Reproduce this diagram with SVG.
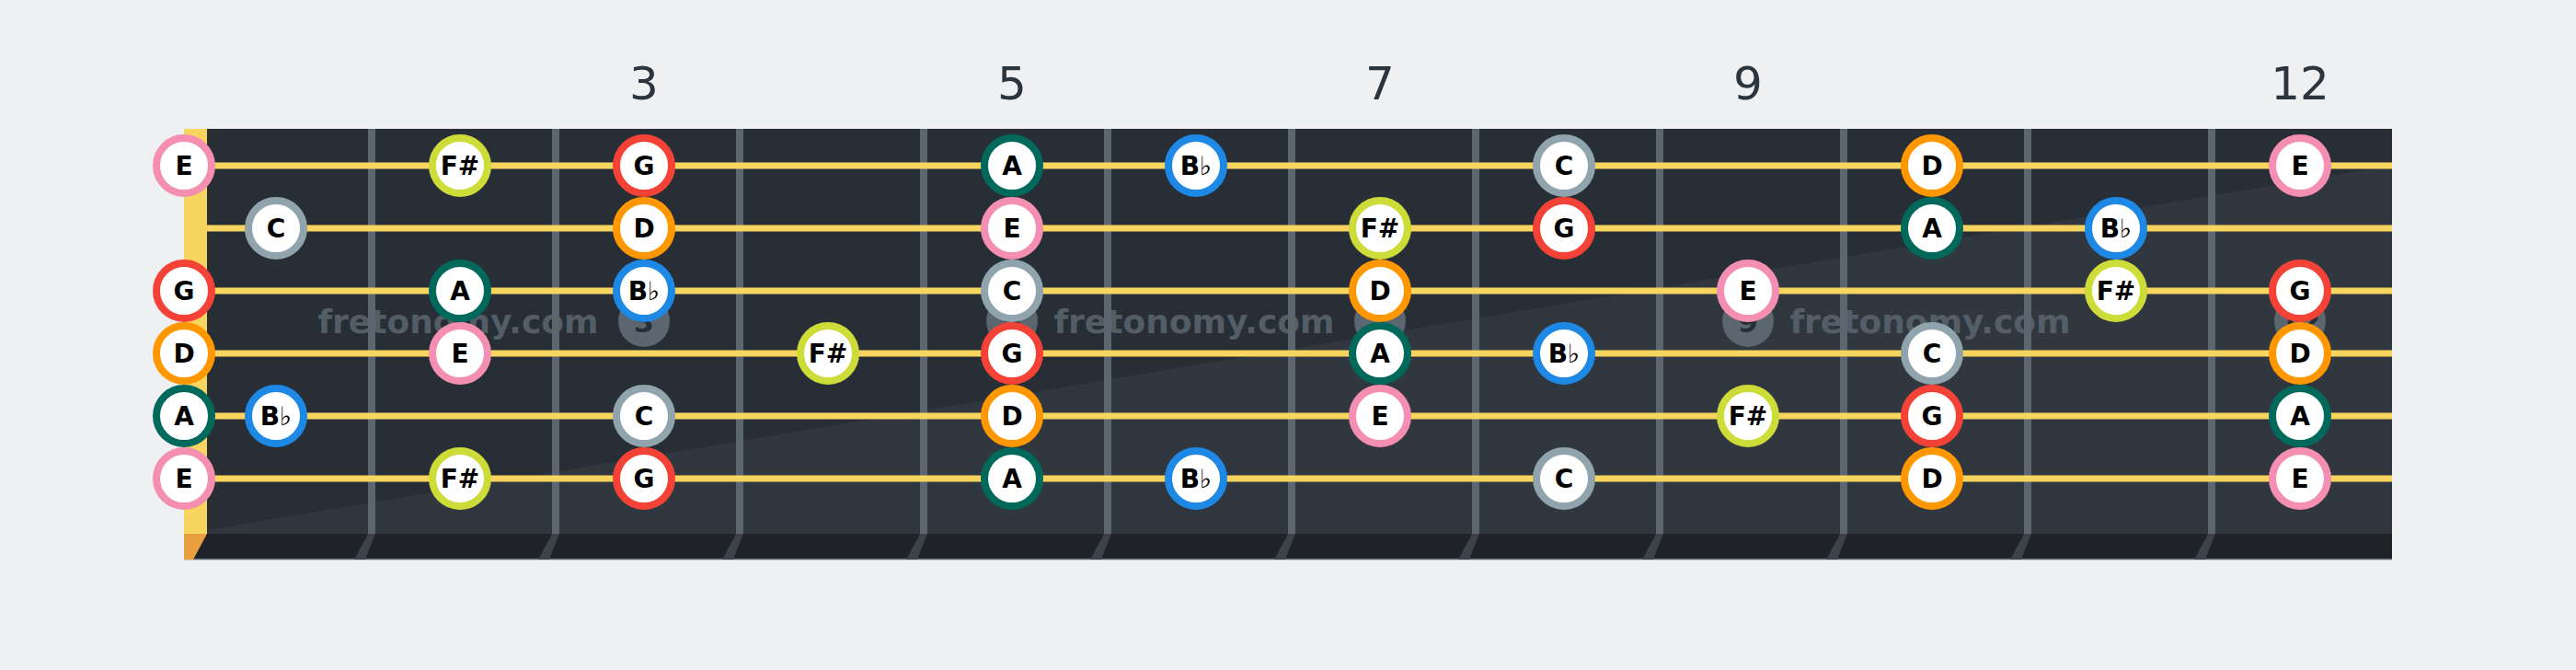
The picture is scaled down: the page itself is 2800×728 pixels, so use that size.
<svg xmlns="http://www.w3.org/2000/svg" width="2800" height="728" viewBox="0 0 2800 728">
<style>
.num{font-family:"DejaVu Sans",sans-serif;font-size:50px;fill:#2c353d;text-anchor:middle}
.wm{font-family:"DejaVu Sans",sans-serif;font-size:36px;font-weight:bold;fill:#5b6670;fill-opacity:0.85;text-anchor:middle}
.str{stroke:#f7d55f;stroke-width:7}
.fret{stroke:#5b6670;stroke-width:8}
.ext{fill:#3b424a}
.dot{fill:#5b6670}
.dotnum{font-family:"DejaVu Sans",sans-serif;font-size:32px;font-weight:bold;fill:#282e36;text-anchor:middle}
.n circle{fill:#ffffff;stroke-width:8}
.n text{font-family:"DejaVu Sans",sans-serif;font-size:28px;font-weight:bold;fill:#000;text-anchor:middle}
.n text tspan.fl{font-weight:normal}
.E circle{stroke:#f48fb1}
.Fs circle{stroke:#cddc39}
.G circle{stroke:#f44336}
.A circle{stroke:#00695c}
.Bb circle{stroke:#1e88e5}
.C circle{stroke:#90a4ae}
.D circle{stroke:#ff9800}
</style>
<rect x="0" y="0" width="2800" height="728" fill="#eef0f2"/>
<g id="fret-numbers">
<text class="num" x="700" y="108">3</text>
<text class="num" x="1100" y="108">5</text>
<text class="num" x="1500" y="108">7</text>
<text class="num" x="1900" y="108">9</text>
<text class="num" x="2500" y="108">12</text>
</g>
<g id="fretboard">
<rect x="200" y="140" width="2400" height="440" fill="#282e36"/>
<polygon points="200,580 2600,180 2600,580" fill="#31373f"/>
<rect x="200" y="580" width="2400" height="28" fill="#1f2327"/>
<line x1="200" y1="607.5" x2="2600" y2="607.5" stroke="#5c6670" stroke-width="1.5"/>
<rect x="200" y="140" width="25" height="440" fill="#f7d55f"/>
<polygon points="200,580 225,580 210,608 200,608" fill="#e8a040"/>
<g id="fret-ext">
<polygon class="ext" points="400,580 408,580 397,608 385,608"/>
<polygon class="ext" points="600,580 608,580 597,608 585,608"/>
<polygon class="ext" points="800,580 808,580 797,608 785,608"/>
<polygon class="ext" points="1000,580 1008,580 997,608 985,608"/>
<polygon class="ext" points="1200,580 1208,580 1197,608 1185,608"/>
<polygon class="ext" points="1400,580 1408,580 1397,608 1385,608"/>
<polygon class="ext" points="1600,580 1608,580 1597,608 1585,608"/>
<polygon class="ext" points="1800,580 1808,580 1797,608 1785,608"/>
<polygon class="ext" points="2000,580 2008,580 1997,608 1985,608"/>
<polygon class="ext" points="2200,580 2208,580 2197,608 2185,608"/>
<polygon class="ext" points="2400,580 2408,580 2397,608 2385,608"/>
</g>
<g id="frets">
<line class="fret" x1="404" y1="140" x2="404" y2="580"/>
<line class="fret" x1="604" y1="140" x2="604" y2="580"/>
<line class="fret" x1="804" y1="140" x2="804" y2="580"/>
<line class="fret" x1="1004" y1="140" x2="1004" y2="580"/>
<line class="fret" x1="1204" y1="140" x2="1204" y2="580"/>
<line class="fret" x1="1404" y1="140" x2="1404" y2="580"/>
<line class="fret" x1="1604" y1="140" x2="1604" y2="580"/>
<line class="fret" x1="1804" y1="140" x2="1804" y2="580"/>
<line class="fret" x1="2004" y1="140" x2="2004" y2="580"/>
<line class="fret" x1="2204" y1="140" x2="2204" y2="580"/>
<line class="fret" x1="2404" y1="140" x2="2404" y2="580"/>
</g>
<g id="watermark">
<text class="wm" x="498" y="362">fretonomy.com</text>
<text class="wm" x="1298" y="362">fretonomy.com</text>
<text class="wm" x="2098" y="362">fretonomy.com</text>
</g>
<g id="inlays">
<circle class="dot" cx="700" cy="349" r="28"/><text class="dotnum" x="700" y="361">3</text>
<circle class="dot" cx="1100" cy="349" r="28"/><text class="dotnum" x="1100" y="361">5</text>
<circle class="dot" cx="1500" cy="349" r="28"/><text class="dotnum" x="1500" y="361">7</text>
<circle class="dot" cx="1900" cy="349" r="28"/><text class="dotnum" x="1900" y="361">9</text>
<circle class="dot" cx="2500" cy="349" r="28"/><text class="dotnum" x="2500" y="361">12</text>
</g>
<g id="strings">
<line class="str" x1="225" y1="180" x2="2600" y2="180"/>
<line class="str" x1="225" y1="248" x2="2600" y2="248"/>
<line class="str" x1="225" y1="316" x2="2600" y2="316"/>
<line class="str" x1="225" y1="384" x2="2600" y2="384"/>
<line class="str" x1="225" y1="452" x2="2600" y2="452"/>
<line class="str" x1="225" y1="520" x2="2600" y2="520"/>
</g>
</g>
<g id="notes">
<g id="s1f0" class="n E"><circle cx="200" cy="180" r="30"/><text x="200" y="190">E</text></g>
<g id="s1f2" class="n Fs"><circle cx="500" cy="180" r="30"/><text x="500" y="190">F#</text></g>
<g id="s1f3" class="n G"><circle cx="700" cy="180" r="30"/><text x="700" y="190">G</text></g>
<g id="s1f5" class="n A"><circle cx="1100" cy="180" r="30"/><text x="1100" y="190">A</text></g>
<g id="s1f6" class="n Bb"><circle cx="1300" cy="180" r="30"/><text x="1300" y="190">B<tspan class="fl">♭</tspan></text></g>
<g id="s1f8" class="n C"><circle cx="1700" cy="180" r="30"/><text x="1700" y="190">C</text></g>
<g id="s1f10" class="n D"><circle cx="2100" cy="180" r="30"/><text x="2100" y="190">D</text></g>
<g id="s1f12" class="n E"><circle cx="2500" cy="180" r="30"/><text x="2500" y="190">E</text></g>

<g id="s2f1" class="n C"><circle cx="300" cy="248" r="30"/><text x="300" y="258">C</text></g>
<g id="s2f3" class="n D"><circle cx="700" cy="248" r="30"/><text x="700" y="258">D</text></g>
<g id="s2f5" class="n E"><circle cx="1100" cy="248" r="30"/><text x="1100" y="258">E</text></g>
<g id="s2f7" class="n Fs"><circle cx="1500" cy="248" r="30"/><text x="1500" y="258">F#</text></g>
<g id="s2f8" class="n G"><circle cx="1700" cy="248" r="30"/><text x="1700" y="258">G</text></g>
<g id="s2f10" class="n A"><circle cx="2100" cy="248" r="30"/><text x="2100" y="258">A</text></g>
<g id="s2f11" class="n Bb"><circle cx="2300" cy="248" r="30"/><text x="2300" y="258">B<tspan class="fl">♭</tspan></text></g>

<g id="s3f0" class="n G"><circle cx="200" cy="316" r="30"/><text x="200" y="326">G</text></g>
<g id="s3f2" class="n A"><circle cx="500" cy="316" r="30"/><text x="500" y="326">A</text></g>
<g id="s3f3" class="n Bb"><circle cx="700" cy="316" r="30"/><text x="700" y="326">B<tspan class="fl">♭</tspan></text></g>
<g id="s3f5" class="n C"><circle cx="1100" cy="316" r="30"/><text x="1100" y="326">C</text></g>
<g id="s3f7" class="n D"><circle cx="1500" cy="316" r="30"/><text x="1500" y="326">D</text></g>
<g id="s3f9" class="n E"><circle cx="1900" cy="316" r="30"/><text x="1900" y="326">E</text></g>
<g id="s3f11" class="n Fs"><circle cx="2300" cy="316" r="30"/><text x="2300" y="326">F#</text></g>
<g id="s3f12" class="n G"><circle cx="2500" cy="316" r="30"/><text x="2500" y="326">G</text></g>

<g id="s4f0" class="n D"><circle cx="200" cy="384" r="30"/><text x="200" y="394">D</text></g>
<g id="s4f2" class="n E"><circle cx="500" cy="384" r="30"/><text x="500" y="394">E</text></g>
<g id="s4f4" class="n Fs"><circle cx="900" cy="384" r="30"/><text x="900" y="394">F#</text></g>
<g id="s4f5" class="n G"><circle cx="1100" cy="384" r="30"/><text x="1100" y="394">G</text></g>
<g id="s4f7" class="n A"><circle cx="1500" cy="384" r="30"/><text x="1500" y="394">A</text></g>
<g id="s4f8" class="n Bb"><circle cx="1700" cy="384" r="30"/><text x="1700" y="394">B<tspan class="fl">♭</tspan></text></g>
<g id="s4f10" class="n C"><circle cx="2100" cy="384" r="30"/><text x="2100" y="394">C</text></g>
<g id="s4f12" class="n D"><circle cx="2500" cy="384" r="30"/><text x="2500" y="394">D</text></g>

<g id="s5f0" class="n A"><circle cx="200" cy="452" r="30"/><text x="200" y="462">A</text></g>
<g id="s5f1" class="n Bb"><circle cx="300" cy="452" r="30"/><text x="300" y="462">B<tspan class="fl">♭</tspan></text></g>
<g id="s5f3" class="n C"><circle cx="700" cy="452" r="30"/><text x="700" y="462">C</text></g>
<g id="s5f5" class="n D"><circle cx="1100" cy="452" r="30"/><text x="1100" y="462">D</text></g>
<g id="s5f7" class="n E"><circle cx="1500" cy="452" r="30"/><text x="1500" y="462">E</text></g>
<g id="s5f9" class="n Fs"><circle cx="1900" cy="452" r="30"/><text x="1900" y="462">F#</text></g>
<g id="s5f10" class="n G"><circle cx="2100" cy="452" r="30"/><text x="2100" y="462">G</text></g>
<g id="s5f12" class="n A"><circle cx="2500" cy="452" r="30"/><text x="2500" y="462">A</text></g>

<g id="s6f0" class="n E"><circle cx="200" cy="520" r="30"/><text x="200" y="530">E</text></g>
<g id="s6f2" class="n Fs"><circle cx="500" cy="520" r="30"/><text x="500" y="530">F#</text></g>
<g id="s6f3" class="n G"><circle cx="700" cy="520" r="30"/><text x="700" y="530">G</text></g>
<g id="s6f5" class="n A"><circle cx="1100" cy="520" r="30"/><text x="1100" y="530">A</text></g>
<g id="s6f6" class="n Bb"><circle cx="1300" cy="520" r="30"/><text x="1300" y="530">B<tspan class="fl">♭</tspan></text></g>
<g id="s6f8" class="n C"><circle cx="1700" cy="520" r="30"/><text x="1700" y="530">C</text></g>
<g id="s6f10" class="n D"><circle cx="2100" cy="520" r="30"/><text x="2100" y="530">D</text></g>
<g id="s6f12" class="n E"><circle cx="2500" cy="520" r="30"/><text x="2500" y="530">E</text></g>
</g>
</svg>
